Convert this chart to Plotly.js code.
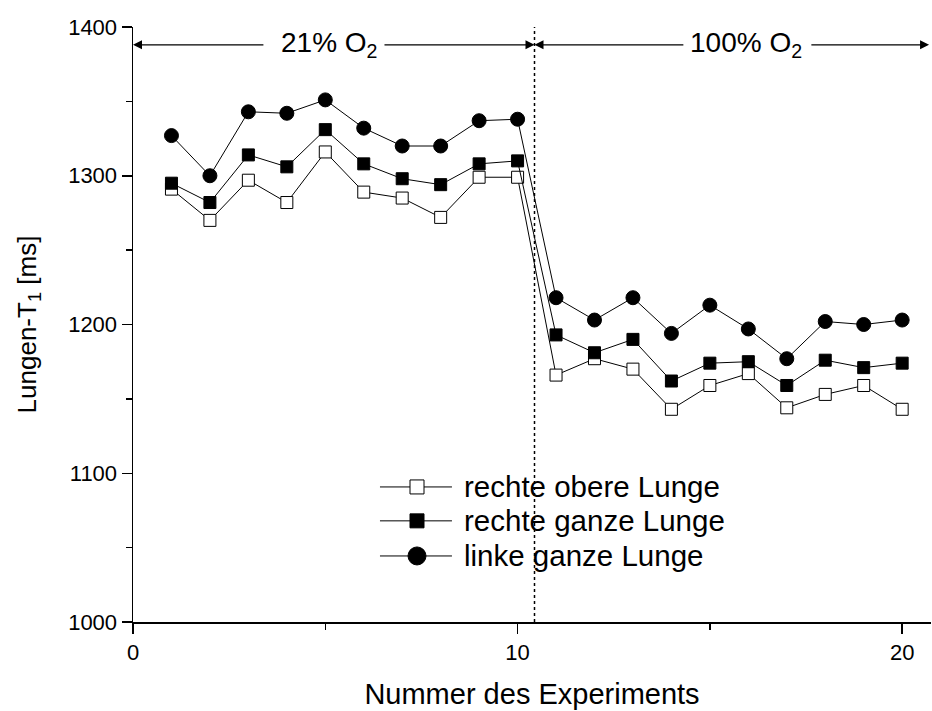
<!DOCTYPE html>
<html>
<head>
<meta charset="utf-8">
<script src="https://cdn.plot.ly/plotly-3.0.1.min.js"></script>
<style>
  html, body { margin: 0; padding: 0; background: #fff; }
  #chart { width: 932px; height: 711px; }
</style>
</head>
<body>
<div id="chart"></div>
<script>
// Lung T1 per experiment, 21% O2 (experiments 1-10) then 100% O2 (11-20)
const experiments = [1, 2, 3, 4, 5, 6, 7, 8, 9, 10, 11, 12, 13, 14, 15, 16, 17, 18, 19, 20];
const rechteObereLunge = [1291, 1270, 1297, 1282, 1316, 1289, 1285, 1272, 1299, 1299,
                          1166, 1177, 1170, 1143, 1159, 1167, 1144, 1153, 1159, 1143];
const rechteGanzeLunge = [1295, 1282, 1314, 1306, 1331, 1308, 1298, 1294, 1308, 1310,
                          1193, 1181, 1190, 1162, 1174, 1175, 1159, 1176, 1171, 1174];
const linkeGanzeLunge  = [1327, 1300, 1343, 1342, 1351, 1332, 1320, 1320, 1337, 1338,
                          1218, 1203, 1218, 1194, 1213, 1197, 1177, 1202, 1200, 1203];

const seriesNames = ['rechte obere Lunge', 'rechte ganze Lunge', 'linke ganze Lunge'];
const seriesValues = [rechteObereLunge, rechteGanzeLunge, linkeGanzeLunge];
const seriesSymbols = ['square', 'square', 'circle'];
const seriesFill = ['#ffffff', '#000000', '#000000'];
const seriesSize = [12, 12, 14];
const legendSize = [14, 14, 18];

// phase boundary between the two gas conditions and the label row
const phaseSwitch = 10.44;
const xMax = 20.75;
const arrowLevel = 1388;
const phaseLabels = ['21% O<sub>2</sub>', '100% O<sub>2</sub>'];
const phaseLabelX = [5.1, 15.95];
const phaseGapLeft = [3.43, 14.35];
const phaseGapRight = [6.5, 17.6];

const FONT = 'Liberation Sans, Arial, Helvetica, sans-serif';

const traces = seriesValues.map((vals, i) => ({
  x: experiments,
  y: vals,
  name: seriesNames[i],
  type: 'scatter',
  mode: 'lines+markers',
  line: { color: '#000', width: 1 },
  marker: { symbol: seriesSymbols[i], size: seriesSize[i], color: seriesFill[i],
            line: { color: '#000', width: 1 } },
  showlegend: false,
  hoverinfo: 'x+y'
}));

// hand-built legend on an overlay axis in unit coordinates
const legRows = [0.227, 0.170, 0.111];
const legLineX = [0.3095, 0.3997];
const legMarkX = 0.3559;
seriesNames.forEach((name, i) => {
  traces.push({
    x: legLineX, y: [legRows[i], legRows[i]],
    xaxis: 'x2', yaxis: 'y2', type: 'scatter', mode: 'lines',
    line: { color: '#000', width: 1 }, showlegend: false, hoverinfo: 'skip'
  });
  traces.push({
    x: [legMarkX], y: [legRows[i]],
    xaxis: 'x2', yaxis: 'y2', type: 'scatter', mode: 'markers',
    marker: { symbol: seriesSymbols[i], size: legendSize[i], color: seriesFill[i],
              opacity: 1, line: { color: '#000', width: 1 } },
    showlegend: false, hoverinfo: 'skip'
  });
});

const annotations = [];
seriesNames.forEach((name, i) => {
  annotations.push({
    xref: 'paper', yref: 'paper', x: 0.412, y: legRows[i],
    xanchor: 'left', yanchor: 'middle', showarrow: false,
    text: name, font: { family: FONT, size: 29.5, color: '#000' }
  });
});

// phase labels with arrows pointing to the phase boundaries
const phaseSpans = [[0, phaseSwitch], [phaseSwitch, xMax - 0.05]];
phaseSpans.forEach((span, i) => {
  annotations.push({
    xref: 'x', yref: 'y', x: phaseLabelX[i], y: arrowLevel,
    showarrow: false, text: phaseLabels[i],
    font: { family: FONT, size: 28, color: '#000' }
  });
  annotations.push({
    xref: 'x', yref: 'y', axref: 'x', ayref: 'y',
    x: span[0], y: arrowLevel, ax: phaseGapLeft[i], ay: arrowLevel,
    text: '', showarrow: true, arrowhead: 2, arrowsize: 1.5, arrowwidth: 1.2,
    arrowcolor: '#000', standoff: 0, startstandoff: 0
  });
  annotations.push({
    xref: 'x', yref: 'y', axref: 'x', ayref: 'y',
    x: span[1], y: arrowLevel, ax: phaseGapRight[i], ay: arrowLevel,
    text: '', showarrow: true, arrowhead: 2, arrowsize: 1.5, arrowwidth: 1.2,
    arrowcolor: '#000', standoff: 0, startstandoff: 0
  });
});

const layout = {
  width: 932, height: 711,
  margin: { l: 133, r: 1, t: 27, b: 89 },
  paper_bgcolor: '#fff', plot_bgcolor: '#fff',
  font: { family: FONT, color: '#000' },
  showlegend: false,
  xaxis: {
    range: [0, xMax], tickvals: [0, 10, 20], ticktext: ['0', '10', '20'],
    ticks: 'outside', ticklen: 10, tickwidth: 1.5, tickcolor: '#000',
    minor: { tickvals: [5, 15], ticks: 'outside', ticklen: 6, tickwidth: 1.5, tickcolor: '#000' },
    showline: true, linecolor: '#000', linewidth: 1.5, showgrid: false, zeroline: false,
    tickfont: { family: FONT, size: 22 },
    title: { text: 'Nummer des Experiments', font: { family: FONT, size: 29 }, standoff: 20 }
  },
  yaxis: {
    range: [1000, 1400], tickvals: [1000, 1100, 1200, 1300, 1400],
    ticks: 'outside', ticklen: 10, tickwidth: 1.5, tickcolor: '#000',
    minor: { tickvals: [1050, 1150, 1250, 1350], ticks: 'outside', ticklen: 6, tickwidth: 1.5, tickcolor: '#000' },
    showline: true, linecolor: '#000', linewidth: 1.5, showgrid: false, zeroline: false,
    tickfont: { family: FONT, size: 22 },
    title: { text: 'Lungen-T<sub>1</sub> [ms]', font: { family: FONT, size: 26 }, standoff: 24 }
  },
  xaxis2: { overlaying: 'x', range: [0, 1], visible: false, fixedrange: true },
  yaxis2: { overlaying: 'y', range: [0, 1], visible: false, fixedrange: true },
  shapes: [{
    type: 'line', xref: 'x', yref: 'y',
    x0: phaseSwitch, x1: phaseSwitch, y0: 1000, y1: 1400,
    line: { color: '#000', width: 1.5, dash: 'dot' }
  }],
  annotations: annotations
};

Plotly.newPlot('chart', traces, layout, { displayModeBar: false, staticPlot: true });
</script>
</body>
</html>
